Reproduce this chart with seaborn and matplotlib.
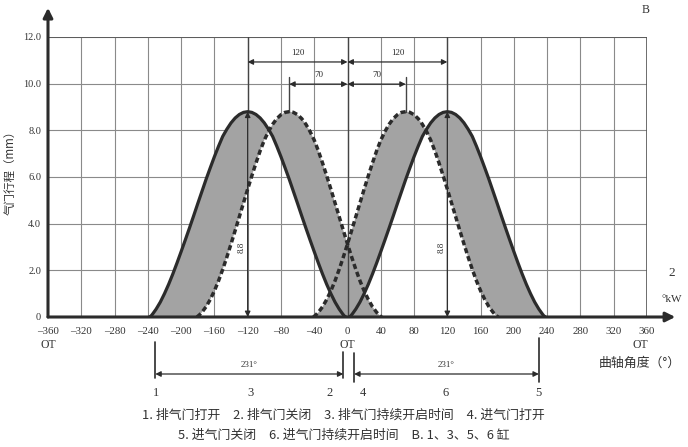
import numpy as np
import matplotlib
matplotlib.use("Agg")
import matplotlib.pyplot as plt
import seaborn as sns
from matplotlib.transforms import blended_transform_factory

# 凸轮升程曲线（单侧）：距峰值角度 (°) -> 气门升程 (mm)
SOLID_OFFSET = [0, 5, 10, 15, 20, 25, 30, 35, 40, 45, 50, 55, 60, 65, 70, 75, 80, 85,
                90, 95, 100, 105, 110, 114, 116, 118]
SOLID_LIFT = [8.80, 8.77, 8.68, 8.53, 8.32, 8.05, 7.74, 7.32, 6.87, 6.39, 5.90, 5.38,
              4.86, 4.33, 3.81, 3.30, 2.80, 2.31, 1.84, 1.40, 1.00, 0.64, 0.34, 0.14,
              0.05, 0.0]
DASH_OFFSET = [0, 5, 10, 15, 20, 25, 30, 35, 40, 45, 50, 55, 60, 65, 70, 75, 80, 85,
               90, 95, 100, 105, 108, 111]
DASH_LIFT = [8.80, 8.77, 8.67, 8.50, 8.26, 7.95, 7.58, 7.12, 6.60, 6.05, 5.48, 4.89,
             4.30, 3.71, 3.13, 2.57, 2.04, 1.55, 1.12, 0.75, 0.44, 0.20, 0.09, 0.0]

# 峰值位置 (°KW)
EXH_PEAK = -120
EXH_DASH_PEAK = -70
INT_DASH_PEAK = 70
INT_PEAK = 120
MAX_LIFT = 8.8

X_TICKS = list(range(-360, 361, 40))
X_LABELS = [str(v).replace("-", "–") for v in X_TICKS]
Y_TICKS = [0, 2, 4, 6, 8, 10, 12]
Y_LABELS = ["0", "2.0", "4.0", "6.0", "8.0", "10.0", "12.0"]

# 下方标注：1 排气门打开, 2 排气门关闭, 4 进气门打开, 5 进气门关闭
MARK_ANGLES = [-231, -5, 8, 230]
NUM_ANGLES = [-230, -117, -21, 19, 118, 230]
NUM_NAMES = ["1", "3", "2", "4", "6", "5"]
DURATION_TEXT = "231°"

LEGEND_1 = "1. 排气门打开　2. 排气门关闭　3. 排气门持续开启时间　4. 进气门打开"
LEGEND_2 = "5. 进气门关闭　6. 进气门持续开启时间　B. 1、3、5、6 缸"

INK = "#2b2b2b"
FILL = "#a3a3a3"
SERIF = ["Liberation Serif", "DejaVu Serif"]
CJK = ["Noto Sans CJK SC", "DejaVu Sans"]

W, H = 688, 447


def cam(peak, offs, lift):
    offs = np.asarray(offs, float)
    lift = np.asarray(lift, float)
    x = np.concatenate([peak - offs[::-1], peak + offs[1:]])
    y = np.concatenate([lift[::-1], lift[1:]])
    return x, y


sns.set_theme(style="white")
fig = plt.figure(figsize=(W / 100, H / 100), dpi=100)
ax = fig.add_axes([48 / W, 1 - 317 / H, (647 - 48) / W, (317 - 37) / H])
ax.set_xlim(-360, 360)
ax.set_ylim(0, 12)

# 网格
for v in X_TICKS[1:]:
    ax.axvline(v, color="#8a8a8a", lw=0.8, zorder=1)
for v in Y_TICKS[1:]:
    ax.axhline(v, color="#8a8a8a", lw=0.8, zorder=1)
ax.axhline(12, color="#555555", lw=1.2, zorder=1)
ax.axvline(360, color="#555555", lw=1.2, zorder=1)

exh_x, exh_y = cam(EXH_PEAK, SOLID_OFFSET, SOLID_LIFT)
exd_x, exd_y = cam(EXH_DASH_PEAK, DASH_OFFSET, DASH_LIFT)
ind_x, ind_y = cam(INT_DASH_PEAK, DASH_OFFSET, DASH_LIFT)
int_x, int_y = cam(INT_PEAK, SOLID_OFFSET, SOLID_LIFT)

# 两条曲线之间填充灰色
ax.fill(np.concatenate([exh_x, exd_x[::-1]]), np.concatenate([exh_y, exd_y[::-1]]),
        color=FILL, lw=0, zorder=2)
ax.fill(np.concatenate([ind_x, int_x[::-1]]), np.concatenate([ind_y, int_y[::-1]]),
        color=FILL, lw=0, zorder=2)

for x, y in [(exh_x, exh_y), (int_x, int_y)]:
    sns.lineplot(x=x, y=y, ax=ax, color=INK, lw=2.3, zorder=4, sort=False,
                 solid_joinstyle="round")
for x, y in [(exd_x, exd_y), (ind_x, ind_y)]:
    sns.lineplot(x=x, y=y, ax=ax, color=INK, lw=2.5, zorder=4, sort=False,
                 linestyle=(0, (1.5, 0.9)))

# 尺寸线
ax.plot([0, 0], [0, 12], color="#444444", lw=1.0, zorder=3)
for v in (EXH_PEAK, INT_PEAK):
    ax.plot([v, v], [MAX_LIFT, 12], color="#444444", lw=1.0, zorder=3)
for v in (EXH_DASH_PEAK, INT_DASH_PEAK):
    ax.plot([v, v], [MAX_LIFT, 10.3], color="#444444", lw=1.0, zorder=3)

arrow = dict(arrowstyle="<|-|>", color=INK, lw=0.9, mutation_scale=8, shrinkA=0, shrinkB=0)
for a, b, yy, txt in [(EXH_PEAK, 0, 10.93, "120"), (0, INT_PEAK, 10.93, "120"),
                      (EXH_DASH_PEAK, 0, 9.98, "70"), (0, INT_DASH_PEAK, 9.98, "70")]:
    ax.annotate("", xy=(b, yy), xytext=(a, yy), arrowprops=arrow, zorder=5)
    ax.text((a + b) / 2, yy + 0.22, txt, ha="center", va="bottom", fontsize=6.5,
            family=SERIF, color=INK)
for v in (EXH_PEAK, INT_PEAK):
    ax.annotate("", xy=(v, MAX_LIFT), xytext=(v, 0), arrowprops=arrow, zorder=5)
    ax.text(v - 7, 3.0, "8.8", rotation=90, ha="center", va="center", fontsize=6.5,
            family=SERIF, color=INK)

# 坐标轴与箭头
ax.annotate("", xy=(-360, 13.25), xytext=(-360, 0), annotation_clip=False,
            arrowprops=dict(arrowstyle="-|>", color=INK, lw=2.2, mutation_scale=14,
                            shrinkA=0, shrinkB=0), zorder=6)
ax.annotate("", xy=(394, 0), xytext=(-360, 0), annotation_clip=False,
            arrowprops=dict(arrowstyle="-|>", color=INK, lw=2.2, mutation_scale=14,
                            shrinkA=0, shrinkB=0), zorder=6)

sns.despine(ax=ax, left=True, bottom=True, top=True, right=True)
ax.set_xticks(X_TICKS)
ax.set_xticklabels(X_LABELS, family=SERIF, fontsize=7.8, color="#333333")
ax.set_yticks(Y_TICKS)
ax.set_yticklabels(Y_LABELS, family=SERIF, fontsize=7.5, color="#333333")
ax.tick_params(axis="x", length=0, pad=7)
ax.tick_params(axis="y", length=0, pad=5)
ax.set_xlabel("")
ax.set_ylabel("")
ax.grid(False)


# 图外文字
def ftext(px, py, s, **kw):
    fig.text(px / W, 1 - py / H, s, **kw)


ftext(10, 170, "气门行程（mm）", rotation=90, ha="center", va="center",
      fontsize=8.3, family=CJK, color="#333333")
ftext(646, 10, "B", ha="center", va="center", fontsize=8.5, family=SERIF, color="#333333")
ftext(672, 273, "2", ha="center", va="center", fontsize=9.5, family=SERIF, color="#333333")
ftext(672, 299, "°kW", ha="center", va="center", fontsize=8, family=SERIF, color="#333333")
ftext(640, 363, "曲轴角度（°）", ha="center", va="center", fontsize=9.3, family=CJK,
      color="#333333")
ftext(343, 415, LEGEND_1, ha="center", va="center", fontsize=9.3, family=CJK, color="#333333")
ftext(344, 435, LEGEND_2, ha="center", va="center", fontsize=9.3, family=CJK, color="#333333")

trans = blended_transform_factory(ax.transData, fig.transFigure)
fy = lambda py: 1 - py / H

for xv in (-360, 0, 352):
    ax.text(xv, fy(345), "OT", transform=trans, ha="center", va="center",
            fontsize=8.5, family=SERIF, color="#333333")

mark_spans = [(342, 378), (352, 378), (353, 382), (338, 382)]
for ang, (y0, y1) in zip(MARK_ANGLES, mark_spans):
    ax.plot([ang, ang], [fy(y0), fy(y1)], transform=trans, color=INK, lw=1.2, clip_on=False)

for ang, name in zip(NUM_ANGLES, NUM_NAMES):
    ax.text(ang, fy(393), name, transform=trans, ha="center", va="center",
            fontsize=9, family=SERIF, color="#333333")

for a, b in [(MARK_ANGLES[0], MARK_ANGLES[1]), (MARK_ANGLES[2], MARK_ANGLES[3])]:
    ax.annotate("", xy=(b, fy(374)), xytext=(a, fy(374)), xycoords=trans, textcoords=trans,
                arrowprops=arrow, annotation_clip=False)
    ax.text((a + b) / 2, fy(369), DURATION_TEXT, transform=trans, ha="center", va="bottom",
            fontsize=6.5, family=SERIF, color="#333333")

fig.savefig("out.png", dpi=100)
